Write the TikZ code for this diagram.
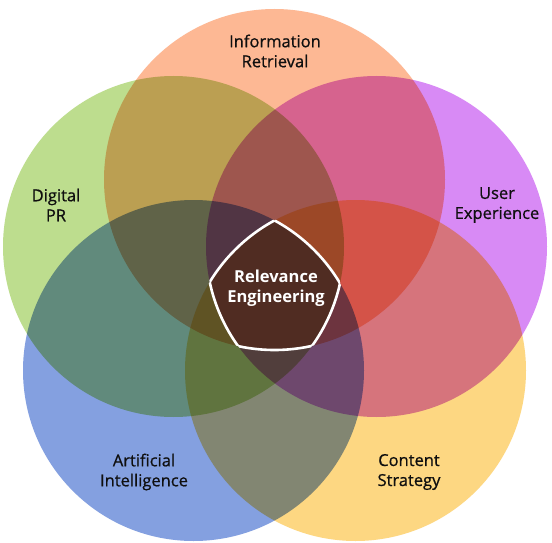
\documentclass[tikz,border=0pt]{standalone}
\usepackage{fontspec}
\setmainfont{Open Sans}
\newfontfamily\medfont{Open Sans}[FakeBold=0.7]
\definecolor{cOrange}{RGB}{253,184,148}
\definecolor{cGreen}{RGB}{189,221,142}
\definecolor{cPurple}{RGB}{216,138,245}
\definecolor{cBlue}{RGB}{132,160,224}
\definecolor{cYellow}{RGB}{253,215,130}
\definecolor{cText}{RGB}{15,15,15}
\tikzset{
  lbl/.style={align=center,font=\medfont\fontsize{16.5}{20}\selectfont,text=cText,inner sep=0pt},
  centerlbl/.style={align=center,font=\fontsize{16.5}{20.5}\selectfont\bfseries,text=white,inner sep=0pt},
  rim/.style={draw=white,line width=2.6pt}
}
\begin{document}
\begin{tikzpicture}[x=1pt,y=-1pt]
\useasboundingbox (0,0) rectangle (552,543);
\fill[white] (0,0) rectangle (552,543);
\coordinate (cIR) at (274.5,179.5);
\coordinate (cPR) at (173.5,246.5);
\coordinate (cUX) at (376.5,246.5);
\coordinate (cAI) at (193.5,370.5);
\coordinate (cCS) at (355.5,370.5);
\def\R{170.5pt}
\begin{scope}[blend group=multiply]
  \fill[cOrange] (cIR) circle[radius=\R];
  \fill[cGreen]  (cPR) circle[radius=\R];
  \fill[cPurple] (cUX) circle[radius=\R];
  \fill[cBlue]   (cAI) circle[radius=\R];
  \fill[cYellow] (cCS) circle[radius=\R];
\end{scope}
% white rim of the five-way intersection
\begin{scope}
  \clip (cPR) circle[radius=\R]; \clip (cUX) circle[radius=\R];
  \clip (cAI) circle[radius=\R]; \clip (cCS) circle[radius=\R];
  \draw[rim] (cIR) circle[radius=\R];
\end{scope}
\begin{scope}
  \clip (cIR) circle[radius=\R]; \clip (cUX) circle[radius=\R];
  \clip (cAI) circle[radius=\R]; \clip (cCS) circle[radius=\R];
  \draw[rim] (cPR) circle[radius=\R];
\end{scope}
\begin{scope}
  \clip (cIR) circle[radius=\R]; \clip (cPR) circle[radius=\R];
  \clip (cAI) circle[radius=\R]; \clip (cCS) circle[radius=\R];
  \draw[rim] (cUX) circle[radius=\R];
\end{scope}
\begin{scope}
  \clip (cIR) circle[radius=\R]; \clip (cPR) circle[radius=\R];
  \clip (cUX) circle[radius=\R]; \clip (cCS) circle[radius=\R];
  \draw[rim] (cAI) circle[radius=\R];
\end{scope}
\begin{scope}
  \clip (cIR) circle[radius=\R]; \clip (cPR) circle[radius=\R];
  \clip (cUX) circle[radius=\R]; \clip (cAI) circle[radius=\R];
  \draw[rim] (cCS) circle[radius=\R];
\end{scope}
\node[lbl] (tIR) at (275,51) {Information\\Retrieval};
\node[lbl] (tPR) at (56,205) {Digital\\PR};
\node[lbl] (tUX) at (497,205) {User\\Experience};
\node[lbl] (tAI) at (144,472) {Artificial\\Intelligence};
\node[lbl] (tCS) at (409,472) {Content\\Strategy};
\node[centerlbl] (tRE) at (276,288) {Relevance\\Engineering};
\end{tikzpicture}
\end{document}
